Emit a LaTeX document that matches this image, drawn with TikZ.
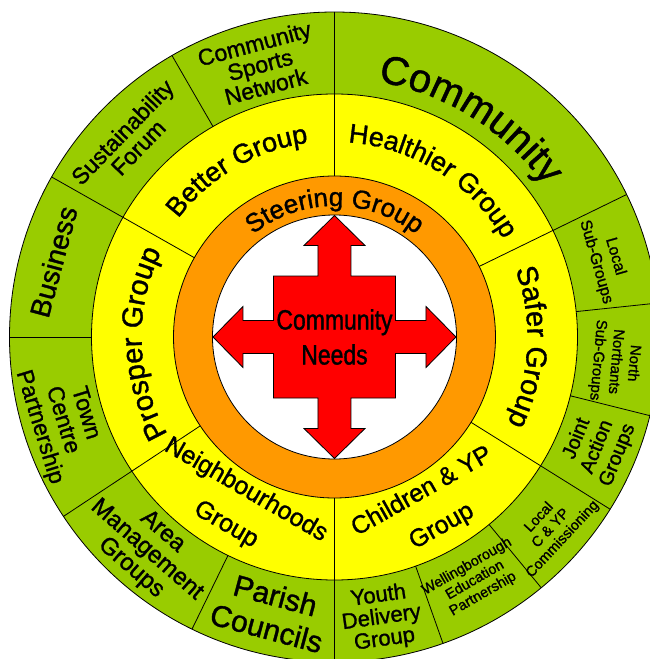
\documentclass[tikz,border=0pt]{standalone}
\usepackage{fontspec}
\setmainfont{Liberation Sans}[FakeBold=1.2]
\newfontfamily\narrowfont{Liberation Sans}[FakeStretch=0.82, FakeBold=1.2]
\usetikzlibrary{decorations.text}

\definecolor{ringgreen}{RGB}{153,204,0}
\definecolor{ringyellow}{RGB}{255,255,0}
\definecolor{ringorange}{RGB}{255,153,0}
\definecolor{needsred}{RGB}{255,0,0}

\newcommand{\fs}[2]{\fontsize{#1}{#2}\selectfont}

\begin{document}
\begin{tikzpicture}[
    x=1pt, y=1pt,
    ring/.style={draw=black, line width=0.8pt},
    divider/.style={draw=black, line width=0.8pt},
    sectortext/.style={align=center, inner sep=0pt},
    arctext/.style 2 args={decorate, decoration={text along path, text align=center, text={|#1|#2}}}
]
    \useasboundingbox (-334.5,-322) rectangle (315.5,337);
    \clip (-334.5,-322) rectangle (315.5,337);
    \fill[white] (-334.5,-322) rectangle (315.5,337);

    % rings
    \filldraw[ring, fill=ringgreen] (0,0) circle[radius=325pt];
    \filldraw[ring, fill=ringyellow] (0,0) circle[radius=243pt];
    \filldraw[ring, fill=ringorange] (0,0) circle[radius=161pt];
    \filldraw[ring, fill=white] (0,0) circle[radius=122pt];

    % sector dividers
    \foreach \a in {6,26,90,120,150.5,180,213.5,244,270,289.5,309.5,328,346}
        \draw[divider] (\a:243) -- (\a:325);
    \foreach \a in {26,90,150.5,213.5,270,328}
        \draw[divider] (\a:161) -- (\a:243);

    % community needs cross
    \filldraw[ring, fill=needsred] (0,121.5) -- (30.5,91.5) -- (16.5,91.5) -- (16.5,61) -- (61,61) -- (61,16.5)
        -- (91.5,16.5) -- (91.5,30.5) -- (121.5,0) -- (91.5,-30.5) -- (91.5,-16.5) -- (61,-16.5) -- (61,-61)
        -- (16.5,-61) -- (16.5,-91.5) -- (30.5,-91.5) -- (0,-121.5) -- (-30.5,-91.5) -- (-16.5,-91.5) -- (-16.5,-61)
        -- (-61,-61) -- (-61,-16.5) -- (-91.5,-16.5) -- (-91.5,-30.5) -- (-121.5,0) -- (-91.5,30.5) -- (-91.5,16.5)
        -- (-61,16.5) -- (-61,61) -- (-16.5,61) -- (-16.5,91.5) -- (-30.5,91.5) -- cycle;
    \node[sectortext, font=\narrowfont\fs{28}{35}] (needs) at (0,0) {Community\\Needs};

    % curved labels
    \path[arctext={\fs{26}{26}}{Steering Group}] (140:131) arc[start angle=140, end angle=40, radius=131pt];
    \path[arctext={\fs{27}{27}}{Healthier Group}] (90:195) arc[start angle=90, end angle=26, radius=195pt];
    \path[arctext={\fs{27}{27}}{Better Group}] (150.5:196) arc[start angle=150.5, end angle=90, radius=196pt];
    \path[arctext={\fs{29}{29}}{Prosper Group}] (213.5:193) arc[start angle=213.5, end angle=150.5, radius=193pt];
    \path[arctext={\fs{29}{29}}{Safer Group}] (26:193) arc[start angle=26, end angle=-32, radius=193pt];
    \path[arctext={\fs{40}{40}}{Community}] (90:259) arc[start angle=90, end angle=26, radius=259pt];

    % yellow ring
    \node[sectortext, font=\fs{25}{40}, rotate=-30] (neighbourhoods) at (240:197) {Neighbourhoods\\Group};
    \node[sectortext, font=\fs{25}{40}, rotate=29.5] (children) at (299.5:198) {Children \& YP\\Group};

    % green ring
    \node[sectortext, font=\fs{23}{20}, rotate=15] (sports) at (105.3:282) {Community\\Sports\\Network};
    \node[sectortext, font=\fs{23}{22}, rotate=46] (forum) at (136:284) {Sustainability\\Forum};
    \node[sectortext, font=\fs{28}{28}, rotate=75] (business) at (165:291) {Business};
    \node[sectortext, font=\fs{23}{24}, rotate=-73] (town) at (197:285) {Town\\Centre\\Partnership};
    \node[sectortext, font=\fs{24}{24}, rotate=-41] (area) at (228.6:284) {Area\\Management\\Groups};
    \node[sectortext, font=\fs{30}{34}, rotate=-15] (parish) at (257:282) {Parish\\Councils};
    \node[sectortext, font=\fs{22}{22}, rotate=8] (youth) at (279.5:285) {Youth\\Delivery\\Group};
    \node[sectortext, font=\fs{14.5}{16}, rotate=30] (education) at (300:281) {Wellingborough\\Education\\Partnership};
    \node[sectortext, font=\fs{14.5}{16}, rotate=47] (commissioning) at (318.5:289) {Local\\C \& YP\\Commissioning};
    \node[sectortext, font=\fs{20}{22}, rotate=68] (joint) at (337.3:285) {Joint\\Action\\Groups};
    \node[sectortext, font=\fs{15}{18}, rotate=-95] (northants) at (355:282) {North\\Northants\\Sub-Groups};
    \node[sectortext, font=\fs{16}{20}, rotate=-74] (localsub) at (16:282) {Local\\Sub-Groups};
\end{tikzpicture}
\end{document}
